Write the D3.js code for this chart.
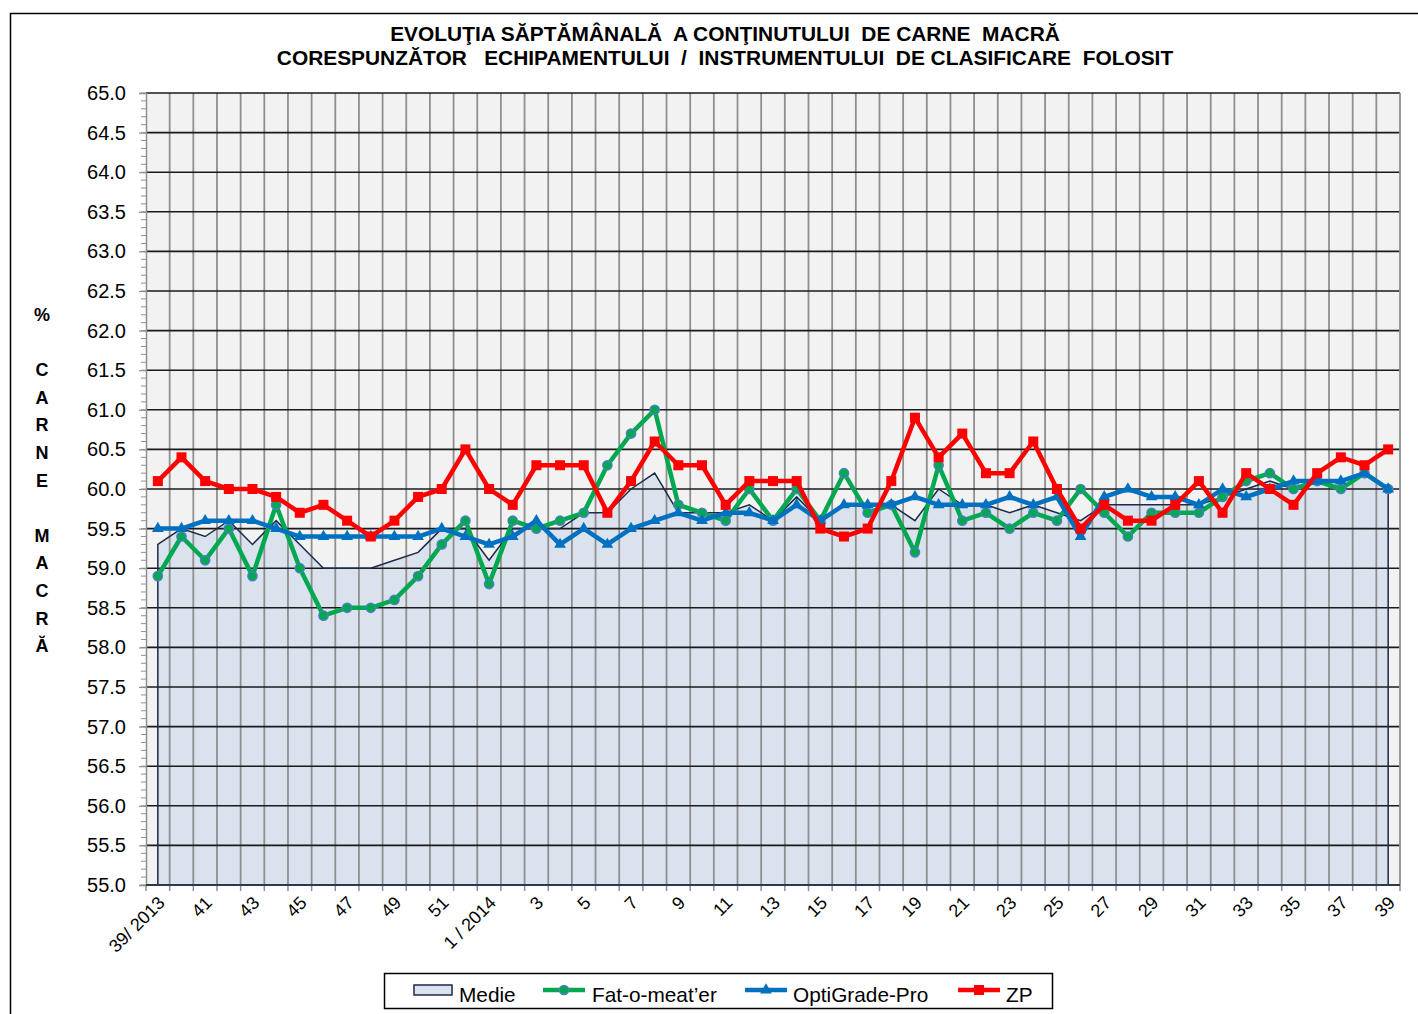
<!DOCTYPE html>
<html><head><meta charset="utf-8">
<script src="https://cdn.jsdelivr.net/npm/d3@7"></script>
<style>
body{margin:0;background:#fff}
svg{display:block}
text{font-family:"Liberation Sans",Arial,sans-serif;fill:#000}
</style>
</head><body>
<svg id="chart" width="1418" height="1014"></svg>
<script>
// ---------- DATA ----------
const categories = ["39/ 2013","40","41","42","43","44","45","46","47","48","49","50","51","52",
  "1 / 2014","2","3","4","5","6","7","8","9","10","11","12","13","14","15","16","17","18","19","20",
  "21","22","23","24","25","26","27","28","29","30","31","32","33","34","35","36","37","38","39"];

const medie = [59.3,59.5,59.4,59.6,59.3,59.6,59.3,59.0,59.0,59.0,59.1,59.2,59.5,59.5,59.1,
  59.5,59.5,59.5,59.7,59.7,60.0,60.2,59.7,59.7,59.7,59.8,59.6,59.9,59.6,59.8,
  59.8,59.8,59.6,60.0,59.8,59.8,59.7,59.8,59.7,59.6,59.8,
  59.8,59.8,59.8,59.8,59.9,60.0,60.1,60.0,60.1,60.1,60.2,60.0];

const fatOMeater = [58.9,59.4,59.1,59.5,58.9,59.8,59.0,58.4,58.5,58.5,58.6,58.9,59.3,59.6,58.8,
  59.6,59.5,59.6,59.7,60.3,60.7,61.0,59.8,59.7,59.6,60.0,59.6,60.0,59.6,60.2,
  59.7,59.8,59.2,60.3,59.6,59.7,59.5,59.7,59.6,60.0,59.7,
  59.4,59.7,59.7,59.7,59.9,60.1,60.2,60.0,60.1,60.0,60.2,60.0];

const optiGradePro = [59.5,59.5,59.6,59.6,59.6,59.5,59.4,59.4,59.4,59.4,59.4,59.4,59.5,59.4,59.3,
  59.4,59.6,59.3,59.5,59.3,59.5,59.6,59.7,59.6,59.7,59.7,59.6,59.8,59.6,59.8,
  59.8,59.8,59.9,59.8,59.8,59.8,59.9,59.8,59.9,59.4,59.9,
  60.0,59.9,59.9,59.8,60.0,59.9,60.0,60.1,60.1,60.1,60.2,60.0];

const zp = [60.1,60.4,60.1,60.0,60.0,59.9,59.7,59.8,59.6,59.4,59.6,59.9,60.0,60.5,60.0,
  59.8,60.3,60.3,60.3,59.7,60.1,60.6,60.3,60.3,59.8,60.1,60.1,60.1,59.5,59.4,
  59.5,60.1,60.9,60.4,60.7,60.2,60.2,60.6,60.0,59.5,59.8,
  59.6,59.6,59.8,60.1,59.7,60.2,60.0,59.8,60.2,60.4,60.3,60.5];

const yTickValues = [55.0,55.5,56.0,56.5,57.0,57.5,58.0,58.5,59.0,59.5,60.0,60.5,61.0,61.5,62.0,62.5,63.0,63.5,64.0,64.5,65.0];
const xTickLabels = categories.filter((d,i) => i % 2 === 0);

const titleLines = ["EVOLUŢIA SĂPTĂMÂNALĂ  A CONŢINUTULUI  DE CARNE  MACRĂ",
                    "CORESPUNZĂTOR   ECHIPAMENTULUI  /  INSTRUMENTULUI  DE CLASIFICARE  FOLOSIT"];
const yTitleLetters = ["%","","C","A","R","N","E","","M","A","C","R","Ă"];
const legendNames = ["Medie","Fat-o-meat’er","OptiGrade-Pro","ZP"];

// ---------- CHART ----------
const svg = d3.select("#chart");
const L = 146, R = 1400, T = 93, B = 885;

// outer frame
svg.append("rect").attr("x",10.5).attr("y",13.5).attr("width",1500).attr("height",1100)
  .attr("fill","#fff").attr("stroke","#000").attr("stroke-width",1.5);

// titles
svg.selectAll(".title").data(titleLines).enter().append("text")
  .attr("x",725).attr("y",(d,i)=>41+i*24).attr("text-anchor","middle")
  .attr("font-size",20.9).attr("font-weight","bold").style("white-space","pre")
  .attr("xml:space","preserve").text(d=>d);

const x = d3.scaleBand().domain(d3.range(categories.length)).range([L,R]).padding(0);
const y = d3.scaleLinear().domain([55,65]).range([B,T]);
const cx = i => x(i) + x.bandwidth()/2;

// plot bg
svg.append("rect").attr("x",L).attr("y",T).attr("width",R-L).attr("height",B-T).attr("fill","#f2f2f2");

// Medie area
const area = d3.area().x((d,i)=>cx(i)).y0(y(55)).y1(d=>y(d));
svg.append("path").datum(medie).attr("d",area).attr("fill","#dae2ee");

// vertical gridlines (category boundaries)
const bounds = d3.range(categories.length+1).map(i => i < categories.length ? x(i) : R);
svg.append("g").selectAll("line").data(bounds.slice(1,-1)).enter().append("line")
  .attr("x1",d=>d).attr("x2",d=>d).attr("y1",T).attr("y2",B)
  .attr("stroke","#8f8f8f").attr("stroke-width",1.8);

// horizontal major gridlines
svg.append("g").selectAll("line").data(yTickValues).enter().append("line")
  .attr("x1",L).attr("x2",R).attr("y1",d=>y(d)).attr("y2",d=>y(d))
  .attr("stroke","#1a1a1a").attr("stroke-width",1.6);

// plot border right
svg.append("line").attr("x1",R).attr("x2",R).attr("y1",T).attr("y2",B).attr("stroke","#8f8f8f").attr("stroke-width",1.8);

// Medie outline (area edge incl. vertical sides)
const outline = d3.line().x(d=>d[0]).y(d=>d[1]);
const outlinePts = [[cx(0),y(55)]].concat(medie.map((d,i)=>[cx(i),y(d)])).concat([[cx(medie.length-1),y(55)]]);
svg.append("path").attr("d",outline(outlinePts)).attr("fill","none").attr("stroke","#1c2a48").attr("stroke-width",1.5);

// Y axis: minor ticks
const minor = d3.range(550,651,1).map(v=>v/10);
svg.append("g").selectAll("line").data(minor).enter().append("line")
  .attr("x1",L-5).attr("x2",L).attr("y1",d=>y(d)).attr("y2",d=>y(d))
  .attr("stroke","#8f8f8f").attr("stroke-width",1);
const yAxis = d3.axisLeft(y).tickValues(yTickValues).tickFormat(d=>d.toFixed(1)).tickSize(7).tickPadding(13);
const gy = svg.append("g").attr("transform",`translate(${L},0)`).call(yAxis);
gy.select(".domain").attr("stroke","#8f8f8f").attr("stroke-width",1.5);
gy.selectAll(".tick line").attr("stroke","#8f8f8f").attr("stroke-width",1.2);
gy.selectAll(".tick text").attr("font-size",20).attr("font-family","Liberation Sans, Arial, sans-serif").attr("fill","#000");

// X axis
svg.append("g").selectAll("line").data(bounds).enter().append("line")
  .attr("x1",d=>d).attr("x2",d=>d).attr("y1",B).attr("y2",B+6)
  .attr("stroke","#8f8f8f").attr("stroke-width",1.5);
svg.append("line").attr("x1",L).attr("x2",R).attr("y1",B).attr("y2",B).attr("stroke","#2a3850").attr("stroke-width",2);
const xLabelIdx = categories.map((d,i)=>i).filter(i => i%2===0 && xTickLabels.includes(categories[i]));
svg.append("g").selectAll("text").data(xLabelIdx).enter().append("text")
  .attr("transform",i=>`translate(${cx(i)+8},${B+19}) rotate(-45)`)
  .attr("text-anchor","end").attr("font-size",18).style("white-space","pre").attr("xml:space","preserve")
  .text(i=>categories[i]);

// Y title
svg.append("g").selectAll("text").data(yTitleLetters).enter().append("text")
  .attr("x",42).attr("y",(d,i)=>321+i*27.6).attr("text-anchor","middle")
  .attr("font-size",18).attr("font-weight","bold").text(d=>d);

// Series
const line = d3.line().x((d,i)=>cx(i)).y(d=>y(d));
const series = [
  {data:fatOMeater, color:"#00a84f", marker:"circle"},
  {data:optiGradePro, color:"#0070c0", marker:"triangle"},
  {data:zp, color:"#ff0000", marker:"square"}
];
function drawMarker(g, type, color, px, py){
  if(type==="circle"){
    g.append("circle").attr("cx",px).attr("cy",py).attr("r",4.6).attr("fill","#00a84f").attr("stroke","#4f7fc0").attr("stroke-width",1.5);
  } else if(type==="triangle"){
    g.append("path").attr("d",d3.symbol(d3.symbolTriangle,60)()).attr("transform",`translate(${px},${py})`).attr("fill",color);
  } else {
    g.append("rect").attr("x",px-5).attr("y",py-5).attr("width",10).attr("height",10).attr("fill",color);
  }
}
series.forEach(s=>{
  const g = svg.append("g");
  g.append("path").datum(s.data).attr("d",line).attr("fill","none").attr("stroke",s.color).attr("stroke-width",4.5).attr("stroke-linejoin","round");
  s.data.forEach((v,i)=>drawMarker(g,s.marker,s.color,cx(i),y(v)));
});

// Legend
const lg = svg.append("g");
lg.append("rect").attr("x",384.5).attr("y",973.5).attr("width",668).attr("height",35).attr("fill","#fff").attr("stroke","#000").attr("stroke-width",1.5);
const legX = [414, 543, 745, 958];
const legTextX = [459, 592, 793, 1006];
lg.append("rect").attr("x",legX[0]).attr("y",985).attr("width",38).attr("height",10).attr("fill","#dae2ee").attr("stroke","#1c2a48").attr("stroke-width",1.5);
series.forEach((s,k)=>{
  const x0 = legX[k+1];
  lg.append("line").attr("x1",x0).attr("x2",x0+42).attr("y1",990).attr("y2",990).attr("stroke",s.color).attr("stroke-width",4.5);
  drawMarker(lg,s.marker,s.color,x0+21,990);
});
lg.selectAll(".lt").data(legendNames).enter().append("text")
  .attr("x",(d,i)=>legTextX[i]).attr("y",1002).attr("font-size",20.8).text(d=>d);
</script>
</body></html>
